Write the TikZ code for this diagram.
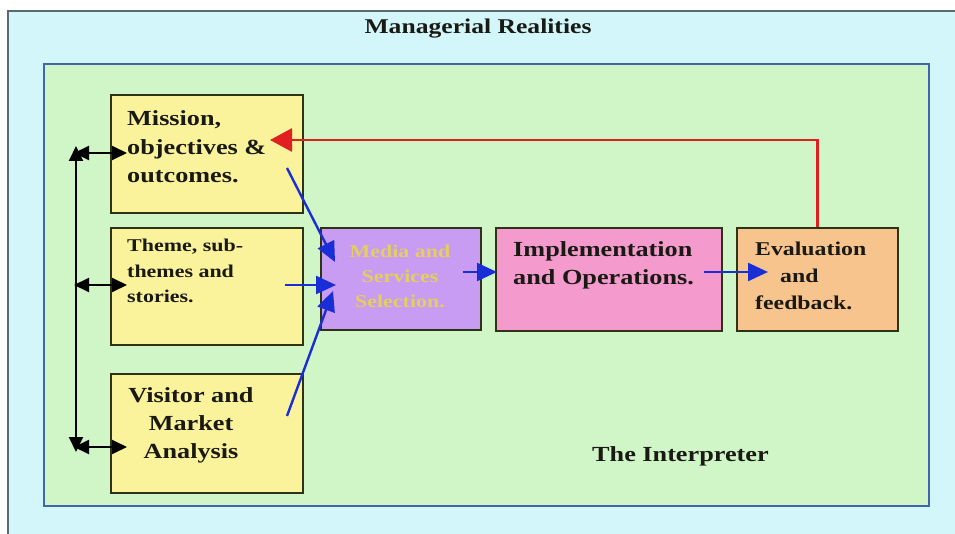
\documentclass[tikz,border=0pt]{standalone}
\usepackage{fontspec}
\setmainfont[FakeStretch=1.22]{Liberation Serif}
\usetikzlibrary{arrows.meta}

\definecolor{skybg}{HTML}{D3F6FA}
\definecolor{framegray}{HTML}{5A6A70}
\definecolor{panelbg}{HTML}{D0F5C6}
\definecolor{panelrule}{HTML}{4068A8}
\definecolor{boxrule}{HTML}{2E3318}
\definecolor{boxyellow}{HTML}{FBF29C}
\definecolor{boxviolet}{HTML}{C89CF2}
\definecolor{boxpink}{HTML}{F59ACD}
\definecolor{boxorange}{HTML}{F8C48E}
\definecolor{mediatext}{HTML}{E4CE5C}
\definecolor{inkdark}{HTML}{1A1A14}
\definecolor{flowblue}{HTML}{1A2ED8}
\definecolor{loopred}{HTML}{E02020}

\newcommand{\bfsize}[2]{\bfseries\fontsize{#1}{#2}\selectfont}

\begin{document}
\begin{tikzpicture}[x=1pt, y=-1pt,
  box/.style={draw=boxrule, line width=1.6pt, rectangle, inner sep=0pt, anchor=north west},
  lbl/.style={inner sep=0pt, text=inkdark, anchor=west, align=left},
  flow/.style={draw=flowblue, line width=2.4pt, -{Triangle[length=20pt, width=18pt]}},
  feedback/.style={draw=loopred, line width=2.8pt, -{Triangle[length=22pt, width=23pt]}},
  link/.style={draw=black, line width=1.9pt, {Triangle[length=15pt, width=14pt]}-{Triangle[length=15pt, width=14pt]}}]

\useasboundingbox (0,0) rectangle (955,534);
\fill[white] (0,0) rectangle (955,534);

% outer frame
\fill[skybg] (8,11) rectangle (955,534);
\draw[framegray, line width=1.4pt] (8,534) -- (8,11) -- (955,11);
\node[inner sep=0pt, text=inkdark, font=\bfsize{21}{24}] (title) at (478,29) {Managerial Realities};

% inner panel
\draw[panelrule, fill=panelbg, line width=1.6pt] (44,64) rectangle (929,506);
\node[inner sep=0pt, text=inkdark, font=\bfsize{21.5}{24}, anchor=west] (interp) at (592,456) {The Interpreter};

% boxes
\node[box, fill=boxyellow, minimum width=192pt, minimum height=118pt] (mission) at (110,94) {};
\node[box, fill=boxyellow, minimum width=192pt, minimum height=117pt] (theme) at (110,227) {};
\node[box, fill=boxyellow, minimum width=192pt, minimum height=119pt] (visitor) at (110,373) {};
\node[box, fill=boxviolet, minimum width=160pt, minimum height=102pt] (media) at (320,227) {};
\node[box, fill=boxpink, minimum width=226pt, minimum height=103pt] (impl) at (495,227) {};
\node[box, fill=boxorange, minimum width=161pt, minimum height=103pt] (eval) at (736,227) {};

% box texts
\node[lbl, font=\bfsize{21.5}{28.5}] (missiontxt) at (127,147) {Mission,\\objectives \&\\outcomes.};
\node[lbl, font=\bfsize{18}{25.5}] (themetxt) at (127,271) {Theme, sub-\\themes and\\stories.};
\node[lbl, align=center, anchor=center, font=\bfsize{21.5}{28}] (visitortxt) at (191,425) {Visitor and\\Market\\Analysis};
\node[lbl, align=center, anchor=center, text=mediatext, font=\bfsize{18}{25}] (mediatxt) at (400,276) {Media and\\Services\\Selection.};
\node[lbl, font=\bfsize{21.5}{28}] (impltxt) at (513,265) {Implementation\\and Operations.};
\node[lbl, font=\bfsize{19.5}{27}] (evaltxt) at (755,276) {Evaluation\\\hspace*{25pt}and\\feedback.};

% connector end points
\coordinate (missionout) at (287,168);
\coordinate (themeout) at (285,285);
\coordinate (visitorout) at (287,416);
\coordinate (mediaintop) at (335,262);
\coordinate (mediainmid) at (336,285);
\coordinate (mediainlow) at (333,291);
\coordinate (mediaout) at (463,272);
\coordinate (implout) at (704,272);
\coordinate (evalin) at (768,272);
\coordinate (missionin) at (270,140);
\coordinate (spinetop) at (76,146);
\coordinate (spinebot) at (76,452);
\coordinate (missionleft) at (74,153);
\coordinate (missionhook) at (127,153);
\coordinate (themeleft) at (74,285);
\coordinate (themehook) at (127,285);
\coordinate (visitorleft) at (74,447);
\coordinate (visitorhook) at (127,447);

% flow into media selection and onwards
\draw[flow] (missionout) -- (mediaintop);
\draw[flow] (themeout) -- (mediainmid);
\draw[flow] (visitorout) -- (mediainlow);
\draw[flow] (mediaout) -- ([xshift=2pt]impl.west |- mediaout);
\draw[flow] (implout) -- (evalin);

% feedback loop
\draw[feedback] (eval.north) |- (missionin);

% links between the planning boxes
\draw[link] (spinetop) -- (spinebot);
\draw[link] (missionleft) -- (missionhook);
\draw[link] (themeleft) -- (themehook);
\draw[link] (visitorleft) -- (visitorhook);
\end{tikzpicture}
\end{document}
